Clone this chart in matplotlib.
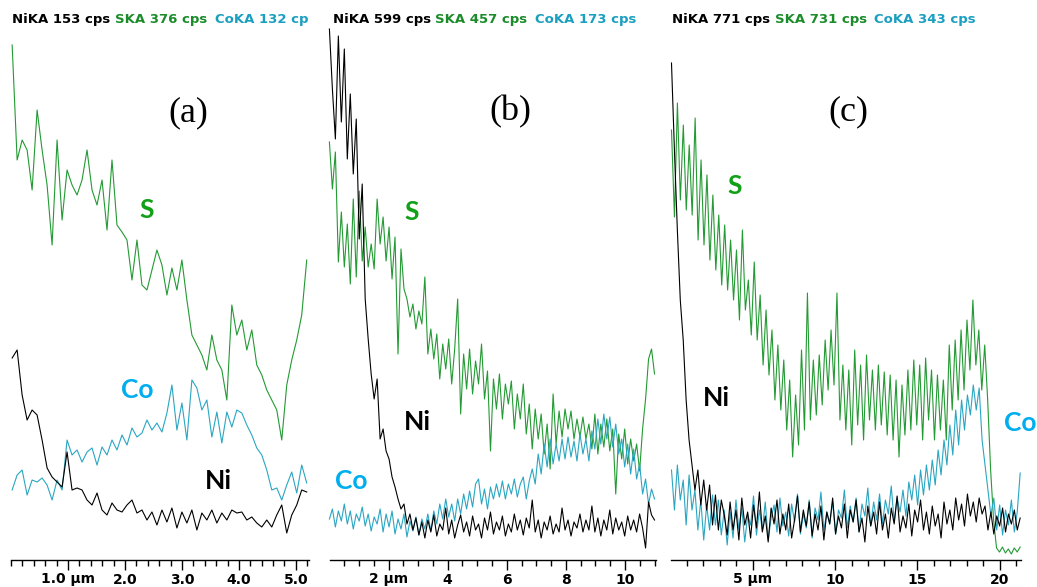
import numpy as np
import matplotlib.pyplot as plt
from matplotlib.ticker import MultipleLocator, FixedLocator, FixedFormatter

# EDS line scans, intensity in arbitrary units (0 = scan baseline)

# panel (a): 0 - 5.2 um
s_a = [515, 400, 420, 410, 370, 450, 410, 375, 315, 420, 340, 390, 375, 365, 380,
       410, 370, 355, 380, 330, 400, 335, 328, 320, 280, 320, 275, 270, 290, 310,
       295, 265, 292, 270, 300, 260, 225, 215, 205, 190, 225, 200, 190, 160, 255,
       225, 240, 210, 230, 195, 185, 170, 160, 150, 120, 175, 200, 220, 245, 300]
co_a = [70, 85, 90, 65, 80, 78, 82, 75, 60, 80, 70, 120, 105, 110, 98, 108, 112, 95,
        113, 105, 120, 110, 125, 115, 132, 123, 127, 140, 130, 137, 128, 147, 175,
        130, 157, 120, 180, 172, 150, 160, 123, 148, 117, 148, 133, 150, 147, 135,
        125, 112, 105, 90, 70, 72, 60, 75, 88, 67, 95, 77]
ni_a = [202, 210, 165, 140, 150, 145, 120, 92, 83, 78, 73, 108, 70, 72, 70, 60, 55,
        67, 50, 45, 57, 50, 48, 55, 60, 47, 50, 40, 48, 35, 50, 38, 52, 32, 48, 37,
        50, 30, 47, 40, 50, 37, 47, 40, 50, 47, 48, 40, 43, 37, 33, 40, 33, 45, 55,
        27, 45, 55, 70, 68]

# panel (b): 0 - 11 um
ni_b = [531, 471, 421, 524, 438, 511, 401, 466, 386, 441, 321, 376, 261, 221, 186,
        161, 181, 121, 131, 109, 101, 83, 73, 61, 51, 56, 36, 46,
        30, 42, 25, 38, 22, 40, 28, 45, 24, 36, 30, 52, 26, 40, 22, 35, 45, 28, 38,
        24, 44, 30, 36, 22, 42, 30, 48, 26, 38, 30, 44, 24, 36, 28, 46, 30, 40, 25,
        42, 32, 60, 28, 40, 22, 38, 30, 44, 26, 36, 28, 52, 30, 40, 24, 38, 32, 46,
        28, 40, 30, 54, 28, 42, 24, 40, 30, 50, 26, 42, 30, 38, 24, 44, 30, 40, 28,
        46, 32, 12, 58, 45, 40]
s_b = [418, 371, 408, 298, 348, 293, 336, 276, 361, 283, 369, 299, 333, 293, 316,
       291, 361, 316, 343, 299, 333, 281, 323, 206, 311, 271, 261, 243, 256, 231,
       249, 236, 283, 206, 231, 201, 226, 181, 216, 191, 221, 176, 211, 261, 146,
       206, 171, 211, 166, 199, 176, 216, 161, 189, 109, 181, 151, 186, 141, 176,
       156, 179, 131, 166, 141, 176, 126, 156, 111, 151, 121, 146, 106, 136, 91,
       166, 116, 149, 123, 151, 131, 149, 121, 141, 123, 143, 121, 136, 111, 146,
       106, 136, 113, 141, 109, 131, 66, 126, 101, 131, 96, 121, 99, 116, 89, 131,
       161, 201, 211, 186]
co_b = [41, 51, 33, 49, 39, 56, 36, 49, 31, 46, 39, 53, 34, 46, 29, 43, 36, 51, 28,
        46, 33, 49, 26, 41, 31, 46, 23, 39, 29, 43, 25, 41, 31, 46, 29, 49, 36, 56,
        41, 61, 43, 56, 39, 61, 46, 66, 51, 69, 53, 76, 81, 56, 71, 51, 73, 61, 76,
        63, 79, 61, 76, 66, 81, 63, 76, 83, 61, 79, 91, 76, 106, 86, 116, 93, 121,
        96, 116, 99, 121, 101, 123, 103, 119, 99, 126, 106, 121, 99, 129, 111, 141,
        116, 146, 121, 143, 113, 136, 106, 121, 93, 116, 86, 111, 81, 96, 66, 81,
        56, 71, 61]

# panel (c): 0 - 21.3 um
ni_c = [497, 410, 330, 260, 220, 160, 120, 95, 70, 90, 55, 80, 50, 75, 35, 65, 30,
        60, 45, 25, 58, 30, 50, 20, 62, 35, 48, 22, 55, 32, 68, 28, 44, 18, 52, 36,
        60, 26, 46, 30, 56, 22, 40, 64, 28, 50, 34, 58, 24, 46, 30, 54, 20, 48, 36,
        62, 26, 44, 32, 56, 22, 50, 38, 60, 28, 42, 18, 54, 34, 48, 26, 58, 30, 46,
        22, 52, 36, 64, 28, 44, 32, 56, 24, 50, 38, 60, 30, 48, 26, 54, 34, 46, 22,
        58, 36, 50, 30, 62, 40, 56, 34, 66, 44, 58, 38, 62, 46, 54, 30, 48, 26, 44,
        34, 52, 28, 46, 36, 50, 30, 42]
s_c = [430, 343, 457, 360, 435, 350, 415, 345, 442, 320, 400, 315, 385, 300, 365,
       290, 345, 275, 335, 270, 320, 260, 310, 240, 330, 250, 280, 225, 298, 220,
       265, 195, 250, 185, 230, 160, 215, 150, 200, 130, 180, 103, 165, 115, 210,
       130, 267, 140, 200, 145, 205, 155, 220, 170, 230, 175, 267, 140, 195, 130,
       190, 115, 210, 135, 195, 120, 205, 140, 190, 130, 195, 135, 188, 125, 185,
       120, 180, 103, 175, 125, 190, 130, 200, 135, 195, 120, 202, 140, 190, 120,
       185, 130, 180, 120, 215, 150, 220, 160, 230, 170, 240, 190, 260, 195, 230,
       170, 215, 160, 90, 40, 12, 8, 13, 7, 11, 6, 12, 8, 13]
co_c = [90, 50, 95, 60, 80, 35, 85, 50, 70, 30, 60, 20, 55, 30, 65, 35, 60, 25, 50,
        15, 48, 22, 60, 30, 52, 18, 45, 35, 64, 25, 50, 30, 58, 20, 42, 55, 28, 62,
        34, 48, 24, 56, 38, 66, 26, 46, 32, 60, 22, 52, 40, 68, 30, 48, 36, 58, 26,
        50, 42, 70, 32, 54, 38, 62, 28, 56, 44, 72, 34, 58, 40, 66, 36, 60, 46, 74,
        38, 62, 48, 70, 44, 78, 60, 85, 55, 90, 65, 95, 70, 100, 75, 110, 85, 120,
        95, 135, 105, 150, 115, 160, 130, 165, 145, 175, 150, 172, 120, 95, 70, 45,
        62, 30, 55, 25, 50, 35, 60, 28, 48, 87]

headers = [("NiKA 153 cps", "SKA 376 cps", "CoKA 132 cp"),
           ("NiKA 599 cps", "SKA 457 cps", "CoKA 173 cps"),
           ("NiKA 771 cps", "SKA 731 cps", "CoKA 343 cps")]
panel_tags = ["(a)", "(b)", "(c)"]

ni_col = "black"
s_col = "#239a33"
co_col = "#2aa6c2"
s_lab = "#11a018"
co_lab = "#00aeef"

W, H = 1037, 587
fig = plt.figure(figsize=(W / 100, H / 100), dpi=100)

# axes boxes in pixels: left, width
boxes = [(11, 298), (330, 326), (671, 350)]
bottom = (H - 560) / H
height = 535 / H

scans = [
    dict(ni=ni_a, s=s_a, co=co_a, x0=0.02, x1=5.19, xlim=(0, 5.23),
         major=[1, 2, 3, 4, 5], labels=["1.0 µm", "2.0", "3.0", "4.0", "5.0"], minor=0.2),
    dict(ni=ni_b, s=s_b, co=co_b, x0=0.0, x1=11.0, xlim=(0.02, 11.05),
         major=[2, 4, 6, 8, 10], labels=["2 µm", "4", "6", "8", "10"], minor=0.5),
    dict(ni=ni_c, s=s_c, co=co_c, x0=0.06, x1=21.25, xlim=(0.03, 21.3),
         major=[5, 10, 15, 20], labels=["5 µm", "10", "15", "20"], minor=1.0),
]

# label positions (axes fraction)
elem_pos = [
    dict(S=(0.456, 0.654), Co=(0.423, 0.318), Ni=(0.695, 0.148), tag=(0.594, 0.836)),
    dict(S=(0.252, 0.650), Co=(0.064, 0.148), Ni=(0.267, 0.258), tag=(0.552, 0.837)),
    dict(S=(0.183, 0.699), Co=(0.997, 0.256), Ni=(0.129, 0.303), tag=(0.506, 0.837)),
]
header_x = [(12, 115, 215), (333, 435, 535), (672, 775, 874)]

for k, (sc, (lpx, wpx)) in enumerate(zip(scans, boxes)):
    ax = fig.add_axes([lpx / W, bottom, wpx / W, height])
    for key, col in (("s", s_col), ("co", co_col), ("ni", ni_col)):
        vals = np.array(sc[key])
        x = np.linspace(sc["x0"], sc["x1"], len(vals))
        ax.plot(x, vals, color=col, lw=0.8, clip_on=False)
    ax.set_xlim(*sc["xlim"])
    ax.set_ylim(0, 535)
    for side in ("left", "right", "top"):
        ax.spines[side].set_visible(False)
    ax.spines["bottom"].set_linewidth(1.0)
    ax.set_yticks([])
    ax.xaxis.set_major_locator(FixedLocator(sc["major"]))
    ax.xaxis.set_major_formatter(FixedFormatter(sc["labels"]))
    ax.xaxis.set_minor_locator(MultipleLocator(sc["minor"]))
    ax.tick_params(axis="x", which="major", length=7, width=1, pad=2,
                   labelsize=10)
    ax.tick_params(axis="x", which="minor", length=4, width=1)
    for t in ax.get_xticklabels():
        t.set_fontweight("bold")
        t.set_family("DejaVu Sans")

    p = elem_pos[k]
    ax.text(*p["tag"], panel_tags[k], transform=ax.transAxes, ha="center",
            va="center", fontsize=26, family="Liberation Serif")
    ax.text(*p["S"], "S", transform=ax.transAxes, ha="center", va="center",
            fontsize=19, fontweight="bold", color=s_lab, family="Lato")
    ax.text(*p["Co"], "Co", transform=ax.transAxes, ha="center", va="center",
            fontsize=19, fontweight="bold", color=co_lab, family="Lato")
    ax.text(*p["Ni"], "Ni", transform=ax.transAxes, ha="center", va="center",
            fontsize=19, fontweight="bold", color="black", family="Lato")

    for txt, xp, col in zip(headers[k], header_x[k], ("black", "#1a8c2a", "#1a9fc0")):
        fig.text(xp / W, 1 - 19 / H, txt, ha="left", va="center", fontsize=9.5,
                 fontweight="bold", color=col, family="DejaVu Sans")

fig.savefig("out.png", dpi=100)
